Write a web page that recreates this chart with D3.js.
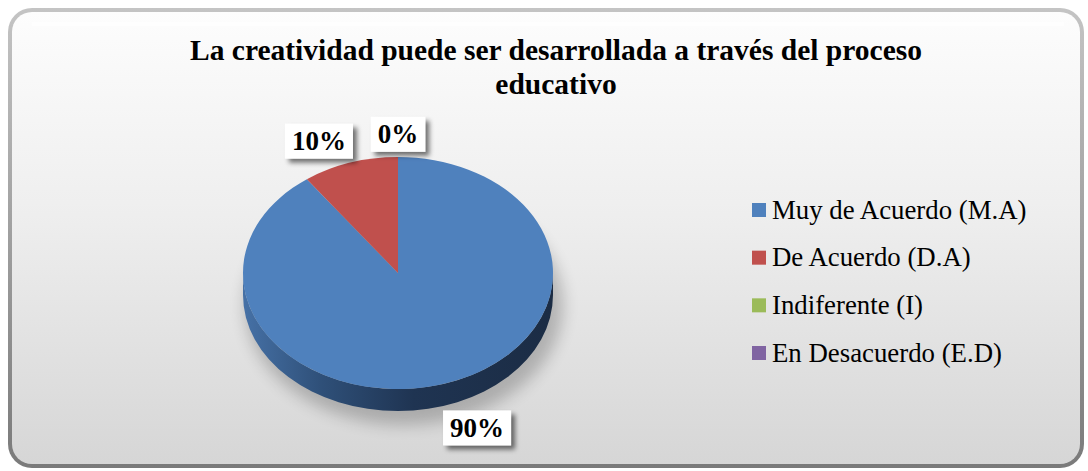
<!DOCTYPE html>
<html>
<head>
<meta charset="utf-8">
<script src="https://cdn.jsdelivr.net/npm/d3@7"></script>
<style>
  body { margin: 0; background: #fff; }
  svg { display: block; }
</style>
</head>
<body>
<div id="pie_chart"></div>
<script>

var categories = ['Muy de Acuerdo (M.A)', 'De Acuerdo (D.A)', 'Indiferente (I)', 'En Desacuerdo (E.D)'];
var values = [90, 10, 0, 0];
var colors = ['#4f81bd', '#c0504d', '#9bbb59', '#8064a2'];
var titleLines = ['La creatividad puede ser desarrollada a través del proceso', 'educativo'];

var width = 1088, height = 471;

var svg = d3.select('#pie_chart')
  .append('svg')
  .attr('width', width)
  .attr('height', height);

var defs = svg.append('defs');

// frame background
var bg = defs.append('linearGradient').attr('id', 'bgGrad')
  .attr('x1', 0).attr('y1', 0).attr('x2', 0).attr('y2', 1);
bg.append('stop').attr('offset', '0%').attr('stop-color', '#fdfdfd');
bg.append('stop').attr('offset', '45%').attr('stop-color', '#eeeeee');
bg.append('stop').attr('offset', '100%').attr('stop-color', '#d6d6d6');

var rim = defs.append('linearGradient').attr('id', 'rimGrad')
  .attr('x1', 0).attr('y1', 0).attr('x2', 0).attr('y2', 1);
rim.append('stop').attr('offset', '0%').attr('stop-color', '#c4c4c4');
rim.append('stop').attr('offset', '100%').attr('stop-color', '#7a7a7a');

var side = defs.append('linearGradient').attr('id', 'sideGrad')
  .attr('x1', 0).attr('y1', 0).attr('x2', 1).attr('y2', 0);
side.append('stop').attr('offset', '0%').attr('stop-color', '#4671a6');
side.append('stop').attr('offset', '25%').attr('stop-color', '#2f5079');
side.append('stop').attr('offset', '55%').attr('stop-color', '#1f3452');
side.append('stop').attr('offset', '100%').attr('stop-color', '#1b2c44');

var blur = defs.append('filter').attr('id', 'softShadow')
  .attr('x', '-30%').attr('y', '-30%').attr('width', '160%').attr('height', '160%');
blur.append('feGaussianBlur').attr('stdDeviation', 8);

var boxShadow = defs.append('filter').attr('id', 'boxShadow')
  .attr('x', '-30%').attr('y', '-30%').attr('width', '170%').attr('height', '170%');
boxShadow.append('feGaussianBlur').attr('in', 'SourceAlpha').attr('stdDeviation', 2.5).attr('result', 'b');
boxShadow.append('feOffset').attr('in', 'b').attr('dx', 4).attr('dy', 4).attr('result', 'o');
boxShadow.append('feComponentTransfer').attr('in', 'o').attr('result', 'o2')
  .append('feFuncA').attr('type', 'linear').attr('slope', 0.55);
var mg = boxShadow.append('feMerge');
mg.append('feMergeNode').attr('in', 'o2');
mg.append('feMergeNode').attr('in', 'SourceGraphic');

// outer rounded frame
svg.append('rect')
  .attr('x', 8).attr('y', 8).attr('width', 1076).attr('height', 460)
  .attr('rx', 24).attr('ry', 24)
  .attr('fill', 'url(#rimGrad)');
svg.append('rect')
  .attr('x', 12).attr('y', 12).attr('width', 1068).attr('height', 452)
  .attr('rx', 20).attr('ry', 20)
  .attr('fill', 'url(#bgGrad)');
// highlight line near top
svg.append('line')
  .attr('x1', 32).attr('x2', 1064).attr('y1', 24).attr('y2', 24)
  .attr('stroke', '#ffffff').attr('stroke-width', 3).attr('opacity', 0.9);

// title
svg.append('g').selectAll('text')
  .data(titleLines)
  .enter().append('text')
  .attr('x', 556)
  .attr('y', function(d, i) { return 60 + i * 34; })
  .attr('text-anchor', 'middle')
  .style('font-family', '"Liberation Serif", "Times New Roman", serif')
  .style('font-weight', 'bold')
  .style('font-size', '29.5px')
  .attr('fill', '#000')
  .text(function(d) { return d; });

// 3d pie
var cx = 398, cy = 273, rx = 155, ry = 116, depth = 22;

var pie = d3.pie().sort(null).value(function(d) { return d; });
var arcs = pie(values);

function pt(a, dy) {
  return [cx + rx * Math.sin(a), cy - ry * Math.cos(a) + (dy || 0)];
}

function topPath(d) {
  if (d.endAngle - d.startAngle <= 0) return '';
  var p0 = pt(d.startAngle), p1 = pt(d.endAngle);
  var large = (d.endAngle - d.startAngle) > Math.PI ? 1 : 0;
  return 'M' + cx + ',' + cy + 'L' + p0 + 'A' + rx + ',' + ry + ' 0 ' + large + ' 1 ' + p1 + 'Z';
}

function sidePath(d) {
  // only front half (between 90deg and 270deg clockwise from top) is visible
  var a0 = Math.max(d.startAngle, Math.PI / 2);
  var a1 = Math.min(d.endAngle, Math.PI * 1.5);
  if (a1 <= a0) return '';
  var p0 = pt(a0), p1 = pt(a1), q1 = pt(a1, depth), q0 = pt(a0, depth);
  return 'M' + p0 + 'A' + rx + ',' + ry + ' 0 0 1 ' + p1 +
    'L' + q1 + 'A' + rx + ',' + ry + ' 0 0 0 ' + q0 + 'Z';
}

// shadow under pie
svg.append('ellipse')
  .attr('cx', cx + 6).attr('cy', cy + depth + 10)
  .attr('rx', rx + 4).attr('ry', ry + 4)
  .attr('fill', '#000').attr('opacity', 0.22)
  .attr('filter', 'url(#softShadow)');

var g = svg.append('g');

g.selectAll('.side')
  .data(arcs)
  .enter().append('path')
  .attr('class', 'side')
  .attr('d', sidePath)
  .attr('fill', function(d, i) { return i === 0 ? 'url(#sideGrad)' : d3.color(colors[i]).darker(1.4); });

g.selectAll('.top')
  .data(arcs)
  .enter().append('path')
  .attr('class', 'top')
  .attr('d', topPath)
  .attr('fill', function(d, i) { return colors[i]; });

// data labels (outside end)
var kx = 1.65, ky = 1.2;
var fmt = function(v) { return v + '%'; };
var labels = arcs.map(function(d) {
  var a = (d.startAngle + d.endAngle) / 2;
  var front = Math.cos(a) < 0;
  return {
    text: fmt(d.data),
    x: cx + rx * kx * Math.sin(a),
    y: cy - ry * ky * Math.cos(a) + (front ? depth : 0)
  };
});
// identical positions only show once
labels = labels.filter(function(l, i) {
  return !labels.slice(i + 1).some(function(m) { return Math.abs(m.x - l.x) < 1 && Math.abs(m.y - l.y) < 1; });
});

var lab = svg.append('g').selectAll('g')
  .data(labels)
  .enter().append('g')
  .attr('transform', function(d) { return 'translate(' + d.x + ',' + d.y + ')'; });

lab.append('text')
  .attr('text-anchor', 'middle')
  .attr('dy', '0.35em')
  .style('font-family', '"Liberation Serif", "Times New Roman", serif')
  .style('font-weight', 'bold')
  .style('font-size', '27px')
  .text(function(d) { return d.text; })
  .each(function(d) {
    var bb = this.getBBox();
    d3.select(this.parentNode).insert('rect', 'text')
      .attr('x', bb.x - 7).attr('y', -17)
      .attr('width', bb.width + 14).attr('height', 35)
      .attr('fill', '#fff')
      .attr('filter', 'url(#boxShadow)');
  });

// legend
var ly = d3.scalePoint().domain(categories).range([210, 353]);

var legend = svg.append('g').selectAll('g')
  .data(categories)
  .enter().append('g')
  .attr('transform', function(d) { return 'translate(752,' + ly(d) + ')'; });

legend.append('rect')
  .attr('x', 0).attr('y', -7)
  .attr('width', 14).attr('height', 14)
  .attr('fill', function(d, i) { return colors[i]; });

legend.append('text')
  .attr('x', 20).attr('y', 8.5)
  .style('font-family', '"Liberation Serif", "Times New Roman", serif')
  .style('font-size', '26.8px')
  .attr('fill', '#000')
  .text(function(d) { return d; });

</script>
</body>
</html>
